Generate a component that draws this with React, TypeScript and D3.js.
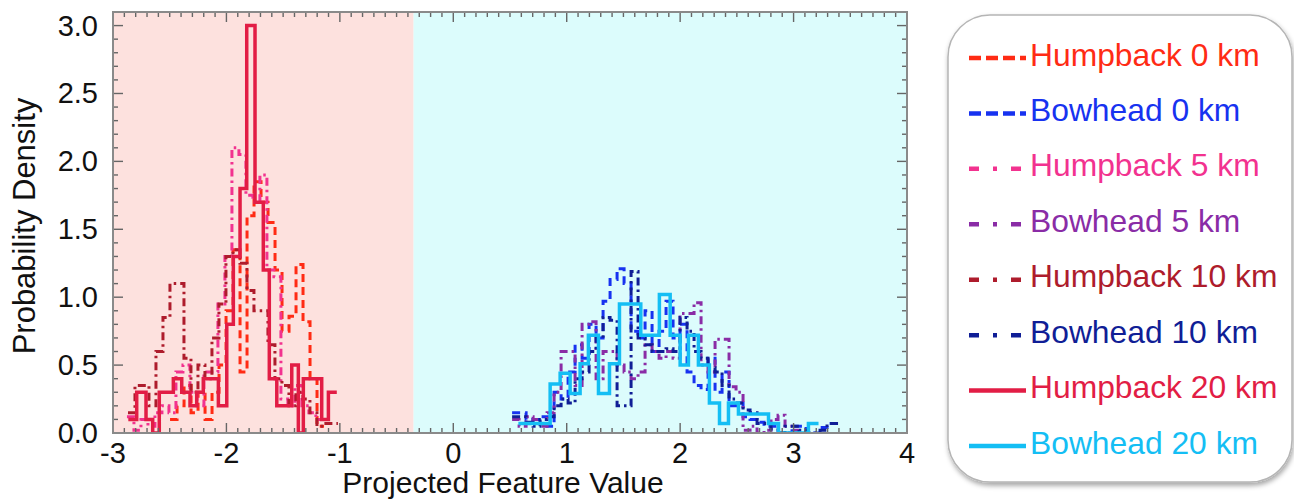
import React, { useEffect, useRef } from 'react'
import * as d3 from 'd3'

// axis ticks
const xTickValues = [-3, -2, -1, 0, 1, 2, 3, 4]
const yTickValues = [0, 0.5, 1, 1.5, 2, 2.5, 3]
const xDomain = [-3, 4]
const yDomain = [0, 3.1]
const splitValue = -0.35 // boundary between pink (humpback) and cyan (bowhead) regions

// solid histograms read with their own bin edges
const humpback20Edges = [-2.865, -2.791, -2.709, -2.65, -2.592, -2.468, -2.394, -2.321, -2.262, -2.204, -2.071, -1.997, -1.939, -1.88, -1.821, -1.748, -1.675, -1.622, -1.556, -1.424, -1.366, -1.322, -1.278, -1.16, -1.101, -1.027]
const humpback20Density = [0.1, 0.3, 0.1, 0, 0.3, 0.4, 0.3, 0.2, 0.3, 0.4, 0.2, 0.8, 1.3, 1.8, 3.0, 1.7, 1.2, 0.4, 0.2, 0.5, 0, 0.4, 0.4, 0.1, 0.3]

const bowhead20Edges = [0.574, 0.854, 0.942, 1.03, 1.118, 1.191, 1.28, 1.377, 1.465, 1.653, 1.817, 1.912, 2.0, 2.073, 2.161, 2.258, 2.347, 2.426, 2.514, 2.779, 2.867, 3.131, 3.22]
const bowhead20Density = [0.07, 0.36, 0.44, 0.29, 0.51, 0.72, 0.29, 0.51, 0.95, 0.72, 1.02, 0.72, 0.5, 0.72, 0.5, 0.22, 0.07, 0.22, 0.14, 0.07, 0, 0.07]

// broken-line histograms, equal bins
const binWidth = 0.0617

const humpback0Start = -2.497
const humpback0Density = [0.1, 0.2, 0.35, 0.15, 0.3, 0.1, 0.3, 0.5, 0.9, 1.35, 0.45, 1.6, 1.85, 1.7, 1.55, 1.2, 0.75, 0.86, 1.24, 0.82, 0.4, 0.05]

const humpback5Start = -2.877
const humpback5Density = [0.12, 0.02, 0.1, 0.05, 0.15, 0.2, 0.15, 0.45, 0.5, 0.3, 0.2, 0.45, 0.45, 0.95, 1.3, 2.1, 2.05, 1.75, 1.7, 1.9, 1.2, 1.15, 0.25, 0.2, 0.35, 0.2, 0.15, 0.1]

const humpback10Start = -2.868
const humpback10Density = [0.15, 0.35, 0.35, 0.2, 0.6, 0.85, 1.1, 1.1, 0.55, 0.3, 0.5, 0.4, 0.7, 0.95, 1.3, 1.35, 1.25, 1.05, 0.9, 0.9, 0.65, 0.4, 0.35, 0.2, 0.3, 0.25, 0.15, 0.05, 0.07, 0.07]

const bowhead0Start = 0.5185
const bowhead0Density = [0.15, 0.15, 0.1, 0.1, 0.12, 0.05, 0.3, 0.25, 0.45, 0.65, 0.55, 0.8, 0.7, 0.97, 1.13, 1.21, 1.1, 0.75, 0.7, 0.9, 0.6, 0.75, 0.97, 0.7, 0.8, 0.45, 0.35, 0.32, 0.55, 0.3, 0.45, 0.2, 0.22, 0.12, 0.1, 0.08, 0.05, 0.05, 0, 0, 0.05, 0.05, 0, 0, 0.04, 0.07, 0.07]

const bowhead5Start = 0.5185
const bowhead5Density = [0.1, 0.05, 0.12, 0.1, 0.05, 0.15, 0.3, 0.6, 0.6, 0.35, 0.8, 0.82, 0.4, 0.6, 0.6, 0.5, 0.45, 0.4, 0.45, 0.65, 0.6, 0.55, 0.6, 0.55, 0.88, 0.88, 0.96, 0.5, 0.45, 0.69, 0.69, 0.34, 0.3, 0.02, 0.05, 0, 0.02, 0.1, 0.13, 0.05, 0.02]

const bowhead10Start = 0.5185
const bowhead10Density = [0.12, 0.12, 0.08, 0.05, 0.1, 0.12, 0.2, 0.25, 0.22, 0.4, 0.45, 0.6, 0.7, 0.85, 0.83, 0.2, 0.2, 1.19, 0.7, 0.65, 0.6, 0.6, 0.62, 0.6, 0.85, 0.75, 0.6, 0.55, 0.48, 0.45, 0.35, 0.25, 0.22, 0.17, 0.15, 0.07, 0.07, 0.03, 0, 0.05, 0.05, 0.02, 0, 0, 0.02, 0.07, 0.07]

const seriesNames = ['Humpback 0 km', 'Bowhead 0 km', 'Humpback 5 km', 'Bowhead 5 km', 'Humpback 10 km', 'Bowhead 10 km', 'Humpback 20 km', 'Bowhead 20 km']
const seriesColors = ['#ff2b14', '#1732f0', '#f2328f', '#8a2ca6', '#ae1c2c', '#101e96', '#e21d45', '#14bef4']
const seriesStyles = ['dash', 'dash', 'dashdot', 'dashdot', 'dashdot', 'dashdot', 'solid', 'solid']

const equalEdges = (start, n) => d3.range(n + 1).map((i) => start + i * binWidth)

export default function App() {
  const svgRef = useRef(null)

  useEffect(() => {
    const svg = d3.select(svgRef.current)
    svg.selectAll('*').remove()

    const font = '"Liberation Sans", Arial, Helvetica, sans-serif'
    const left = 113
    const right = 907
    const top = 12
    const bottom = 433

    const x = d3.scaleLinear().domain(xDomain).range([left, right])
    const y = d3.scaleLinear().domain(yDomain).range([bottom, top])

    const series = [
      { edges: equalEdges(humpback0Start, humpback0Density.length), density: humpback0Density },
      { edges: equalEdges(bowhead0Start, bowhead0Density.length), density: bowhead0Density },
      { edges: equalEdges(humpback5Start, humpback5Density.length), density: humpback5Density },
      { edges: equalEdges(bowhead5Start, bowhead5Density.length), density: bowhead5Density },
      { edges: equalEdges(humpback10Start, humpback10Density.length), density: humpback10Density },
      { edges: equalEdges(bowhead10Start, bowhead10Density.length), density: bowhead10Density },
      { edges: humpback20Edges, density: humpback20Density },
      { edges: bowhead20Edges, density: bowhead20Density },
    ].map((s, i) => ({
      ...s,
      name: seriesNames[i],
      color: seriesColors[i],
      style: seriesStyles[i],
    }))

    const defs = svg.append('defs')
    defs
      .append('clipPath')
      .attr('id', 'plot-clip')
      .append('rect')
      .attr('x', left)
      .attr('y', top)
      .attr('width', right - left)
      .attr('height', bottom - top)
    defs
      .append('filter')
      .attr('id', 'legend-shadow')
      .attr('x', '-10%')
      .attr('y', '-10%')
      .attr('width', '120%')
      .attr('height', '120%')
      .append('feDropShadow')
      .attr('dx', 1)
      .attr('dy', 3)
      .attr('stdDeviation', 2.5)
      .attr('flood-color', '#000')
      .attr('flood-opacity', 0.35)

    // background regions
    svg
      .append('rect')
      .attr('x', x(xDomain[0]))
      .attr('y', top)
      .attr('width', x(splitValue) - x(xDomain[0]))
      .attr('height', bottom - top)
      .attr('fill', '#fde1de')
    svg
      .append('rect')
      .attr('x', x(splitValue))
      .attr('y', top)
      .attr('width', x(xDomain[1]) - x(splitValue))
      .attr('height', bottom - top)
      .attr('fill', '#dcfcfc')

    // histograms
    const step = d3
      .line()
      .x((d) => x(d[0]))
      .y((d) => y(d[1]))
      .curve(d3.curveStepAfter)

    const plot = svg.append('g').attr('clip-path', 'url(#plot-clip)')
    series.forEach((s) => {
      const pts = s.density.map((v, i) => [s.edges[i], v])
      pts.push([s.edges[s.density.length], s.density[s.density.length - 1]])
      plot
        .append('path')
        .attr('d', step(pts))
        .attr('fill', 'none')
        .attr('stroke', s.color)
        .attr('stroke-width', s.style === 'solid' ? 3.5 : 3)
        .attr('stroke-linejoin', 'miter')
        .attr('stroke-dasharray', s.style === 'dash' ? '8,5' : s.style === 'dashdot' ? '8,4,2.5,4' : null)
    })

    // ticks on all four sides, pointing inward
    const ticks = svg.append('g').attr('stroke', '#666').attr('stroke-width', 1.4)
    const xMinor = d3.range(-30, 41).map((v) => v / 10)
    const yMinor = d3.range(0, 31).map((v) => v / 10)
    xMinor.forEach((v) => {
      const major = Math.abs(v - Math.round(v)) < 1e-6
      const len = major ? 10 : 5
      ticks.append('line').attr('x1', x(v)).attr('x2', x(v)).attr('y1', bottom).attr('y2', bottom - len)
      ticks.append('line').attr('x1', x(v)).attr('x2', x(v)).attr('y1', top).attr('y2', top + len)
    })
    yMinor.forEach((v) => {
      const major = Math.abs(v * 2 - Math.round(v * 2)) < 1e-6
      const len = major ? 10 : 5
      ticks.append('line').attr('x1', left).attr('x2', left + len).attr('y1', y(v)).attr('y2', y(v))
      ticks.append('line').attr('x1', right).attr('x2', right - len).attr('y1', y(v)).attr('y2', y(v))
    })

    // frame
    svg
      .append('rect')
      .attr('x', left)
      .attr('y', top)
      .attr('width', right - left)
      .attr('height', bottom - top)
      .attr('fill', 'none')
      .attr('stroke', '#8a8a8a')
      .attr('stroke-width', 2)

    // tick labels (plain hyphen for negatives, as in the original)
    svg
      .append('g')
      .selectAll('text')
      .data(xTickValues)
      .enter()
      .append('text')
      .attr('x', (d) => x(d))
      .attr('y', 463)
      .attr('text-anchor', 'middle')
      .attr('font-family', font)
      .attr('font-size', 29)
      .attr('fill', '#111')
      .text((d) => String(d))

    svg
      .append('g')
      .selectAll('text')
      .data(yTickValues)
      .enter()
      .append('text')
      .attr('x', 98)
      .attr('y', (d) => y(d) + 10)
      .attr('text-anchor', 'end')
      .attr('font-family', font)
      .attr('font-size', 29)
      .attr('fill', '#111')
      .text((d) => d3.format('.1f')(d))

    // axis titles
    svg
      .append('text')
      .attr('x', 503)
      .attr('y', 493)
      .attr('text-anchor', 'middle')
      .attr('font-family', font)
      .attr('font-size', 30)
      .attr('fill', '#111')
      .text('Projected Feature Value')

    svg
      .append('text')
      .attr('transform', 'translate(35, 226) rotate(-90)')
      .attr('text-anchor', 'middle')
      .attr('font-family', font)
      .attr('font-size', 31)
      .attr('fill', '#111')
      .text('Probability Density')

    // legend box
    const legend = svg.append('g')
    legend
      .append('rect')
      .attr('x', 948)
      .attr('y', 15)
      .attr('width', 344)
      .attr('height', 467)
      .attr('rx', 42)
      .attr('fill', '#fff')
      .attr('stroke', '#b5b5b5')
      .attr('stroke-width', 1.5)
      .attr('filter', 'url(#legend-shadow)')

    const rowY = d3.scaleLinear().domain([0, seriesNames.length - 1]).range([54, 442])
    series.forEach((s, i) => {
      const cy = rowY(i)
      legend
        .append('line')
        .attr('x1', 969)
        .attr('x2', 1026)
        .attr('y1', cy + 4)
        .attr('y2', cy + 4)
        .attr('stroke', s.color)
        .attr('stroke-width', 4.5)
        .attr('stroke-dasharray', s.style === 'dash' ? '12,5' : s.style === 'dashdot' ? '10,14,4,14' : null)
      legend
        .append('text')
        .attr('x', 1030)
        .attr('y', cy + 11.5)
        .attr('font-family', font)
        .attr('font-size', 31.8)
        .attr('fill', s.color)
        .text(s.name)
    })
  }, [])

  return (
    <svg
      ref={svgRef}
      width="1294"
      height="503"
      style={{ position: 'absolute', left: 0, top: 0, background: '#fff' }}
    ></svg>
  )
}
